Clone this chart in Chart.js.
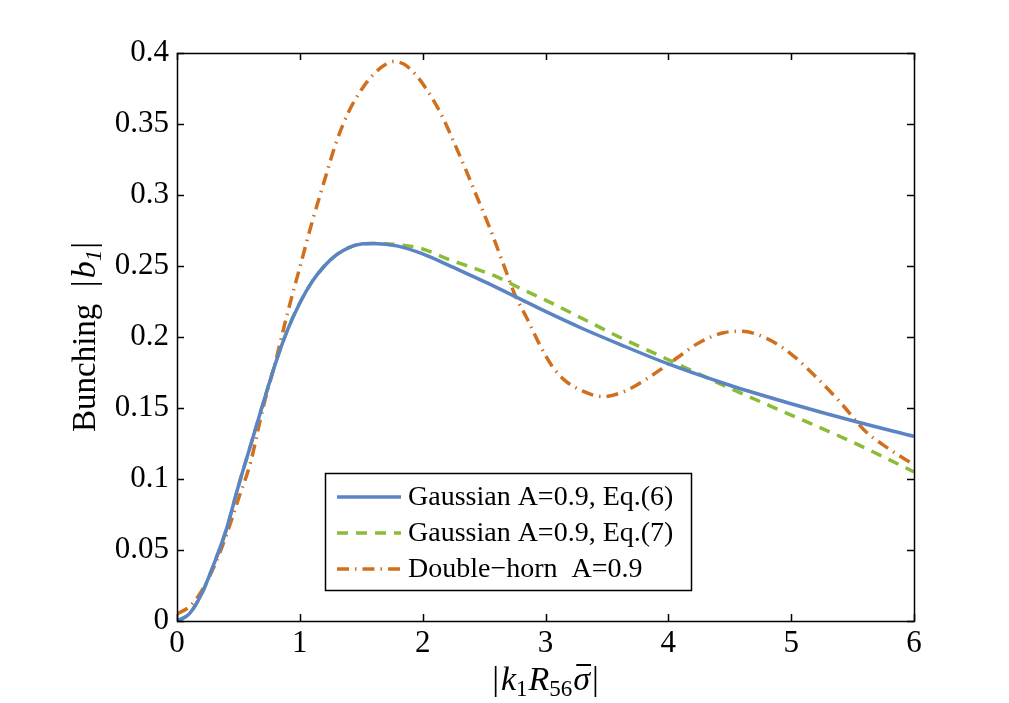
<!DOCTYPE html>
<html>
<head>
<meta charset="utf-8">
<script src="https://cdn.jsdelivr.net/npm/chart.js@4.4.1/dist/chart.umd.min.js"></script>
<style>
  body { margin: 0; background: #fff; }
  #wrap { width: 1009px; height: 703px; }
</style>
</head>
<body>
<div id="wrap"><canvas id="bunchingChart" width="1009" height="703"></canvas></div>
<script>
// valores
const xGauss = [0, 0.1, 0.2, 0.3, 0.4, 0.5, 0.6, 0.7, 0.8, 0.9, 1.0, 1.1, 1.2, 1.3, 1.4, 1.5,
                1.6, 1.8, 2.0, 2.2, 2.4, 2.6, 2.8, 3.0, 3.3, 3.6, 4.0, 4.5, 5.0, 5.5, 6.0];
const gaussEq6 = [0, 0.005, 0.019, 0.04, 0.064, 0.095, 0.124, 0.153, 0.181, 0.205, 0.224, 0.239, 0.25, 0.258, 0.263, 0.2655,
                  0.2658, 0.264, 0.2585, 0.251, 0.243, 0.235, 0.2265, 0.218, 0.206, 0.195, 0.181, 0.166, 0.153, 0.141, 0.13];
const gaussEq7 = [0, 0.005, 0.019, 0.04, 0.064, 0.095, 0.124, 0.153, 0.181, 0.205, 0.224, 0.239, 0.25, 0.258, 0.263, 0.2655,
                  0.2658, 0.265, 0.262, 0.255, 0.249, 0.2425, 0.234, 0.226, 0.213, 0.2, 0.184, 0.164, 0.145, 0.126, 0.105];

const xHorn = [0, 0.1, 0.2, 0.3, 0.4, 0.5, 0.6, 0.7, 0.8, 0.9, 1.0, 1.1, 1.2, 1.3, 1.4, 1.5, 1.6, 1.7, 1.76,
               1.85, 1.95, 2.05, 2.15, 2.25, 2.35, 2.45, 2.55, 2.65, 2.75, 2.85, 2.95, 3.05, 3.15, 3.3, 3.47,
               3.65, 3.85, 4.05, 4.25, 4.45, 4.6, 4.8, 5.0, 5.2, 5.4, 5.6, 5.8, 6.0];
const doubleHorn = [0.005, 0.01, 0.021, 0.038, 0.06, 0.086, 0.112, 0.15, 0.182, 0.217, 0.249, 0.281, 0.31, 0.338, 0.359, 0.374, 0.385, 0.392, 0.394,
                    0.392, 0.384, 0.372, 0.357, 0.338, 0.318, 0.297, 0.276, 0.253, 0.23, 0.213, 0.195, 0.18, 0.17, 0.162, 0.158,
                    0.162, 0.172, 0.184, 0.196, 0.203, 0.204, 0.199, 0.188, 0.172, 0.154, 0.134, 0.121, 0.11];

const xTicks = [0, 1, 2, 3, 4, 5, 6];
const yTicks = [0, 0.05, 0.1, 0.15, 0.2, 0.25, 0.3, 0.35, 0.4];
const seriesNames = ['Gaussian A=0.9, Eq.(6)', 'Gaussian A=0.9, Eq.(7)', 'Double\u2212horn  A=0.9'];

const SERIF = '"Liberation Serif", "DejaVu Serif", serif';
const toPoints = (xs, ys) => xs.map((x, i) => ({ x: x, y: ys[i] }));

// caja con marcas hacia dentro (estilo matlab)
const boxPlugin = {
    id: 'boxTicks',
    afterDatasetsDraw(chart) {
        const { ctx, chartArea: a, scales } = chart;
        ctx.save();
        ctx.strokeStyle = '#000';
        ctx.lineWidth = 1.5;
        ctx.beginPath();
        xTicks.forEach(v => {
            const px = Math.round(scales.x.getPixelForValue(v)) + 0.5;
            ctx.moveTo(px, a.bottom); ctx.lineTo(px, a.bottom - 7);
            ctx.moveTo(px, a.top); ctx.lineTo(px, a.top + 7);
        });
        yTicks.forEach(v => {
            const py = Math.round(scales.y.getPixelForValue(v)) + 0.5;
            ctx.moveTo(a.left, py); ctx.lineTo(a.left + 7, py);
            ctx.moveTo(a.right, py); ctx.lineTo(a.right - 7, py);
        });
        ctx.stroke();
        ctx.strokeRect(Math.round(a.left) + 0.5, Math.round(a.top) + 0.5,
                       Math.round(a.right - a.left), Math.round(a.bottom - a.top));
        ctx.restore();
    }
};

// leyenda dentro del area
const legendPlugin = {
    id: 'innerLegend',
    afterDraw(chart) {
        const { ctx, chartArea: a } = chart;
        const left = a.left + 148, top = a.top + 420, w = 366, h = 117;
        ctx.save();
        ctx.fillStyle = '#fff';
        ctx.fillRect(left, top, w, h);
        ctx.strokeStyle = '#000';
        ctx.lineWidth = 1.5;
        ctx.strokeRect(left + 0.5, top + 0.5, w, h);
        ctx.font = '28px ' + SERIF;
        ctx.textBaseline = 'middle';
        chart.data.datasets.forEach((ds, i) => {
            const y = top + 24 + i * 36;
            ctx.strokeStyle = ds.borderColor;
            ctx.lineWidth = ds.borderWidth;
            ctx.setLineDash(ds.borderDash || []);
            ctx.beginPath();
            ctx.moveTo(left + 12, y);
            ctx.lineTo(left + 76, y);
            ctx.stroke();
            ctx.setLineDash([]);
            ctx.fillStyle = '#000';
            ctx.fillText(ds.label, left + 83, y + 1);
        });
        ctx.restore();
    }
};

// titulos de ejes con subindices
function drawPieces(ctx, pieces, startX, baseY) {
    let x = startX;
    pieces.forEach(p => {
        ctx.font = p.font;
        ctx.fillText(p.t, x, baseY + (p.dy || 0));
        if (p.bar) {
            const w = ctx.measureText(p.t).width;
            ctx.fillRect(x + 3, baseY - 26, w - 2, 2);
        }
        x += ctx.measureText(p.t).width + (p.kern || 0);
    });
}
function piecesWidth(ctx, pieces) {
    return pieces.reduce((s, p) => { ctx.font = p.font; return s + ctx.measureText(p.t).width + (p.kern || 0); }, 0);
}

const titlePlugin = {
    id: 'axisTitles',
    afterDraw(chart) {
        const { ctx, chartArea: a } = chart;
        const big = '34px ' + SERIF, it = 'italic 34px ' + SERIF, sub = '23px ' + SERIF;
        ctx.save();
        ctx.fillStyle = '#000';
        ctx.textBaseline = 'alphabetic';
        const xt = [
            { t: '|', font: big, kern: 2 }, { t: 'k', font: it }, { t: '1', font: sub, dy: 6, kern: 1 },
            { t: 'R', font: it }, { t: '56', font: sub, dy: 6, kern: 1 }, { t: '\u03c3', font: it, bar: true, kern: 2 },
            { t: '|', font: big }
        ];
        const cx = (a.left + a.right) / 2;
        drawPieces(ctx, xt, cx - piecesWidth(ctx, xt) / 2, 690);

        const yt = [
            { t: 'Bunching  ', font: '33px ' + SERIF }, { t: '|', font: big, kern: 2 }, { t: 'b', font: it },
            { t: '1', font: 'italic 23px ' + SERIF, dy: 6, kern: 1 }, { t: '|', font: big }
        ];
        ctx.translate(95, (a.top + a.bottom) / 2);
        ctx.rotate(-Math.PI / 2);
        drawPieces(ctx, yt, -piecesWidth(ctx, yt) / 2, 0);
        ctx.restore();
    }
};

const config = {
    type: 'line',
    data: {
        datasets: [{
            label: seriesNames[0],
            data: toPoints(xGauss, gaussEq6),
            borderColor: '#5b84c4',
            borderWidth: 3.5
        }, {
            label: seriesNames[1],
            data: toPoints(xGauss, gaussEq7),
            borderColor: '#8cbb38',
            borderWidth: 3.5,
            borderDash: [11, 8]
        }, {
            label: seriesNames[2],
            data: toPoints(xHorn, doubleHorn),
            borderColor: '#d0701f',
            borderWidth: 3.5,
            borderDash: [12, 6, 1.5, 6]
        }]
    },
    options: {
        responsive: false,
        animation: false,
        devicePixelRatio: 1,
        elements: { point: { radius: 0 }, line: { cubicInterpolationMode: 'monotone', borderCapStyle: 'butt' } },
        layout: { padding: { top: 53, right: 95, left: 0, bottom: 0 } },
        plugins: { legend: { display: false }, tooltip: { enabled: false } },
        scales: {
            x: {
                type: 'linear', min: 0, max: 6,
                afterFit: s => { s.height = 82; },
                afterBuildTicks: s => { s.ticks = xTicks.map(v => ({ value: v })); },
                grid: { display: false, drawTicks: false },
                border: { display: false },
                ticks: { color: '#000', padding: 4, font: { family: SERIF, size: 31 }, maxRotation: 0 }
            },
            y: {
                type: 'linear', min: 0, max: 0.4,
                afterFit: s => { s.width = 177; },
                afterBuildTicks: s => { s.ticks = yTicks.map(v => ({ value: v })); },
                grid: { display: false, drawTicks: false },
                border: { display: false },
                ticks: { color: '#000', padding: 8, font: { family: SERIF, size: 31 },
                         callback: v => String(+v.toFixed(2)) }
            }
        }
    },
    plugins: [boxPlugin, legendPlugin, titlePlugin]
};

const ctx = document.getElementById('bunchingChart').getContext('2d');
new Chart(ctx, config);
</script>
</body>
</html>
